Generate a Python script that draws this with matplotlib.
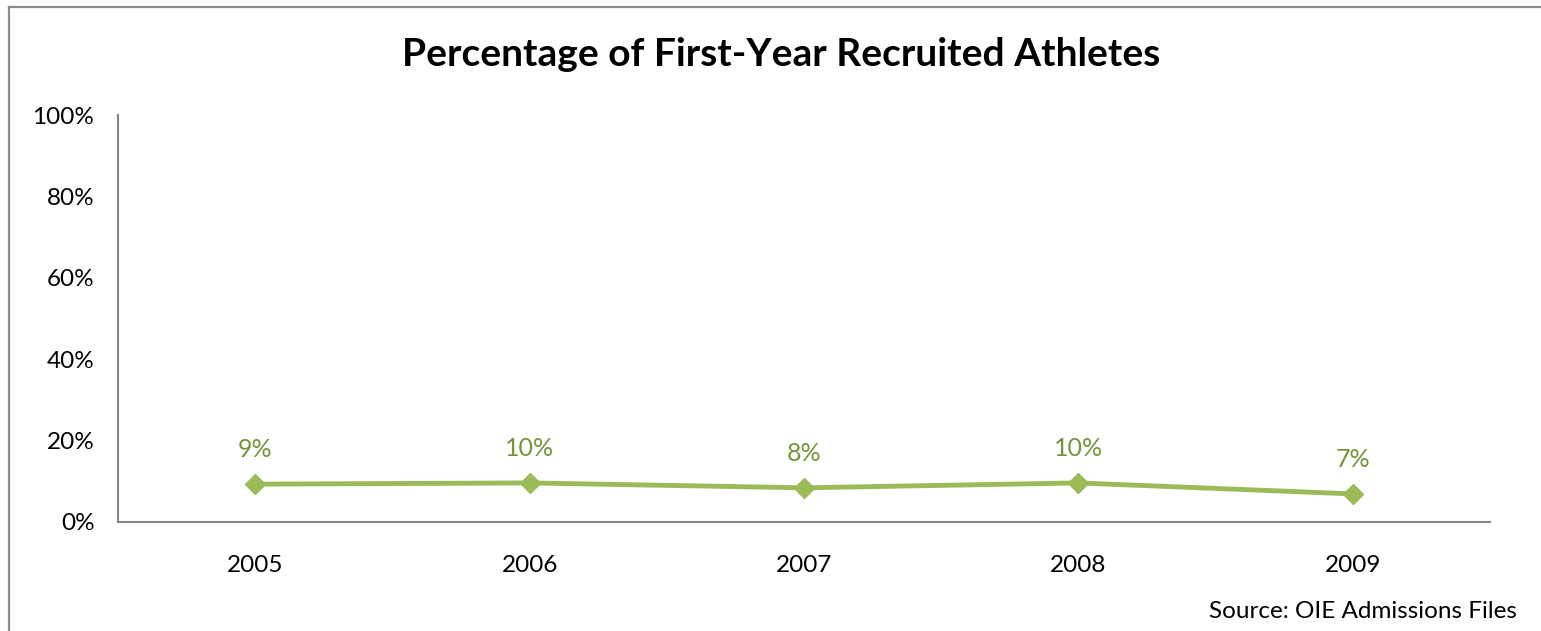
import matplotlib.pyplot as plt
from matplotlib.lines import Line2D

years = ['2005', '2006', '2007', '2008', '2009']
pct = [9.3, 9.6, 8.4, 9.6, 6.9]
labels = ['9%', '10%', '8%', '10%', '7%']
yticks = [0, 20, 40, 60, 80, 100]

plt.rcParams['font.family'] = ['Lato', 'DejaVu Sans']

W, H = 1541, 631
fig = plt.figure(figsize=(W / 100, H / 100), dpi=100)

# outer chart border (runs off the right and bottom edges)
fig.add_artist(Line2D([8.5 / W, 8.5 / W], [0, 1 - 6.5 / H], color='#8c8c8c', lw=1.6, transform=fig.transFigure))
fig.add_artist(Line2D([8.5 / W, 1], [1 - 6.5 / H, 1 - 6.5 / H], color='#8c8c8c', lw=1.6, transform=fig.transFigure))

ax = fig.add_axes([118 / W, 1 - 522 / H, (1490 - 118) / W, (522 - 115) / H])
x = range(len(years))
ax.plot(x, pct, color='#9BBB59', lw=3.5, marker='D', markersize=10, markerfacecolor='#9BBB59',
        markeredgecolor='#9BBB59', solid_capstyle='round')
for xi, v, lab in zip(x, pct, labels):
    ax.annotate(lab, (xi, v), xytext=(0, 25), textcoords='offset points', ha='center', va='center',
                color='#77933C', fontsize=18)

ax.set_xlim(-0.5, len(years) - 0.5)
ax.set_ylim(0, 100)
ax.set_xticks(list(x))
ax.set_xticklabels(years)
ax.set_yticks(yticks)
ax.set_yticklabels([f'{t}%' for t in yticks])
ax.tick_params(length=0, labelsize=17.5, colors='black')
ax.tick_params(axis='x', pad=24)
ax.tick_params(axis='y', pad=17)
for s in ['top', 'right']:
    ax.spines[s].set_visible(False)
for s in ['left', 'bottom']:
    ax.spines[s].set_color('#868686')
    ax.spines[s].set_linewidth(1.5)

fig.text(781 / W, 1 - 55 / H, 'Percentage of First-Year Recruited Athletes', ha='center', va='center',
         fontsize=28, fontweight='bold')
fig.text(1517 / W, 1 - 611 / H, 'Source: OIE Admissions Files', ha='right', va='center', fontsize=17.5)

fig.savefig('out.png', dpi=100)
